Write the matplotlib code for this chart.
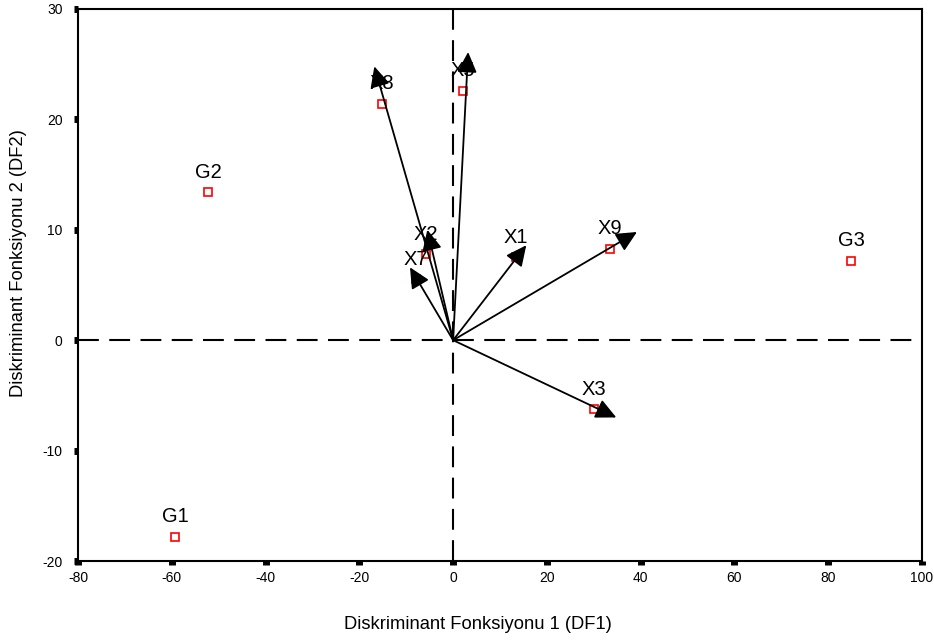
import matplotlib
matplotlib.use("Agg")
import matplotlib.pyplot as plt

plt.rcParams['font.family'] = ['Liberation Sans', 'DejaVu Sans']
plt.rcParams['axes.unicode_minus'] = False

# group centroids
group_names = ["G1", "G2", "G3"]
group_x = [-59.3, -52.2, 84.9]
group_y = [-17.8, 13.4, 7.2]

# variable markers (squares) and structure vectors (arrow tips)
var_names = ["X1", "X2", "X3", "X5", "X7", "X8", "X9"]
var_x = [13.4, -5.8, 30.1, 2.1, -7.9, -15.1, 33.5]
var_y = [7.5, 7.8, -6.25, 22.6, 5.5, 21.4, 8.3]
arrow_x = [15.6, -5.5, 34.8, 3.2, -9.2, -16.8, 39.2]
arrow_y = [8.6, 10.0, -7.0, 26.1, 6.6, 24.8, 9.8]

xticks = [-80, -60, -40, -20, 0, 20, 40, 60, 80, 100]
yticks = [-20, -10, 0, 10, 20, 30]


def main_plot():
    fig = plt.figure(figsize=(9.34, 6.41), dpi=100)
    ax = fig.add_axes([0.0835, 0.1248, 0.9037, 0.8612])

    ax.axhline(0, color="black", lw=1.5, dashes=(10, 5), zorder=1)
    ax.axvline(0, color="black", lw=1.5, dashes=(10, 5), zorder=1)

    for tx, ty in zip(arrow_x, arrow_y):
        ax.annotate("", xy=(tx, ty), xytext=(0, 0),
                    arrowprops=dict(arrowstyle="-|>,head_length=1.25,head_width=0.6",
                                    color="black", lw=1.3, mutation_scale=10,
                                    shrinkA=0, shrinkB=0), zorder=3)

    ax.plot(var_x, var_y, ls="none", marker="s", ms=6, mfc="white",
            mec="red", mew=1.2, zorder=2)
    ax.plot(group_x, group_y, ls="none", marker="s", ms=6, mfc="white",
            mec="red", mew=1.2, zorder=2)

    for name, x, y in list(zip(var_names, var_x, var_y)) + list(zip(group_names, group_x, group_y)):
        ax.annotate(name, xy=(x, y), xytext=(0, 14.4), textcoords="offset points",
                    ha="center", va="center", fontsize=14.5, zorder=4)

    ax.set_xlim(-80, 100)
    ax.set_ylim(-20, 30)
    ax.set_xticks(xticks)
    ax.set_yticks(yticks)
    ax.tick_params(direction="out", length=3, width=5, labelsize=10)
    ax.tick_params(axis="x", pad=4)
    ax.tick_params(axis="y", pad=8)

    for s in ax.spines.values():
        s.set_linewidth(1.5)

    ax.set_xlabel("Diskriminant Fonksiyonu 1 (DF1)", fontsize=13.2)
    ax.set_ylabel("Diskriminant Fonksiyonu 2 (DF2)", fontsize=13.2)
    ax.xaxis.set_label_coords(0.474, -0.100)
    ax.yaxis.set_label_coords(-0.060, 0.54)

    fig.savefig("out.png", dpi=100)


if __name__ == "__main__":
    main_plot()
